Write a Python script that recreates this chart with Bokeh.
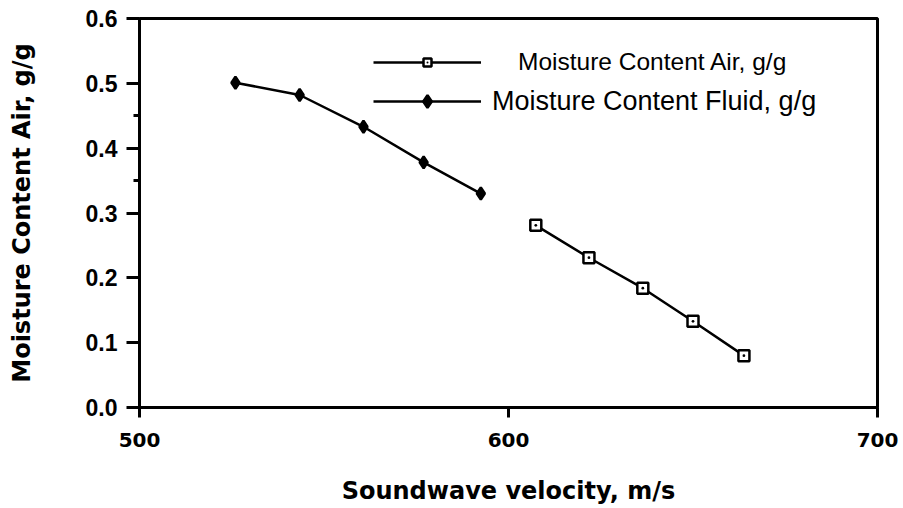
import numpy as np
from bokeh.plotting import figure
from bokeh.models import FixedTicker, Legend, LegendItem, Range1d
from bokeh.embed import file_html
from bokeh.resources import INLINE

# Data
air_velocity = [607.4, 621.8, 636.4, 650.0, 663.8]
air_moisture = [0.281, 0.231, 0.184, 0.133, 0.080]
fluid_velocity = [526.0, 543.4, 560.7, 577.0, 592.5]
fluid_moisture = [0.501, 0.482, 0.433, 0.378, 0.330]
x_ticks = [500, 600, 700]
y_ticks = [0.0, 0.1, 0.2, 0.3, 0.4, 0.5, 0.6]
y_minor_ticks = [0.35, 0.45]
y_tick_labels = {0.0: "0.0", 0.1: "0.1", 0.2: "0.2", 0.3: "0.3", 0.4: "0.4", 0.5: "0.5", 0.6: "0.6"}

p = figure(width=903, height=508, output_backend="svg", toolbar_location=None,
           x_range=Range1d(500, 700), y_range=Range1d(0, 0.6),
           min_border_left=139, min_border_right=26, min_border_top=18, min_border_bottom=101)

p.grid.visible = False
p.outline_line_color = "black"
p.outline_line_width = 3
p.background_fill_color = "white"
p.border_fill_color = "white"

# X axis
xa = p.xaxis[0]
xa.ticker = FixedTicker(ticks=x_ticks, minor_ticks=[])
xa.axis_line_width = 3
xa.major_tick_line_width = 3
xa.major_tick_out = 10
xa.major_tick_in = 0
xa.minor_tick_line_color = None
xa.major_label_text_font = "DejaVu Sans"
xa.major_label_text_font_style = "bold"
xa.major_label_text_font_size = "20px"
xa.major_label_text_color = "black"
xa.major_label_standoff = 15
xa.axis_label = "Soundwave velocity, m/s"
xa.axis_label_text_font = "DejaVu Sans"
xa.axis_label_text_font_style = "bold"
xa.axis_label_text_font_size = "24px"
xa.axis_label_text_color = "black"
xa.axis_label_standoff = 27

# Y axis
ya = p.yaxis[0]
ya.ticker = FixedTicker(ticks=y_ticks, minor_ticks=y_minor_ticks)
ya.major_label_overrides = y_tick_labels
ya.axis_line_width = 3
ya.major_tick_line_width = 3
ya.major_tick_out = 13
ya.major_tick_in = 0
ya.minor_tick_line_width = 3
ya.minor_tick_out = 6
ya.minor_tick_in = 0
ya.major_label_text_font = "Liberation Sans"
ya.major_label_text_font_style = "bold"
ya.major_label_text_font_size = "23px"
ya.major_label_text_color = "black"
ya.major_label_standoff = 9
ya.axis_label = "Moisture Content Air, g/g"
ya.axis_label_text_font = "DejaVu Sans"
ya.axis_label_text_font_style = "bold"
ya.axis_label_text_font_size = "24px"
ya.axis_label_text_color = "black"
ya.axis_label_standoff = 47

# Series
air_line = p.line(air_velocity, air_moisture, line_color="black", line_width=2.5)
air_pts = p.scatter(air_velocity, air_moisture, marker="square_dot", size=11,
                    fill_color="white", line_color="black", line_width=2.5)
fl_line = p.line(fluid_velocity, fluid_moisture, line_color="black", line_width=2.5)
fl_pts = p.scatter(fluid_velocity, fluid_moisture, marker="diamond", size=12,
                   fill_color="black", line_color="black", line_width=2.5)

def make_legend(label, renderers, loc, standoff, fsize, gh):
    lg = Legend(items=[LegendItem(label=label, renderers=renderers)],
                location=loc, orientation="vertical",
                glyph_width=108, glyph_height=gh, label_standoff=standoff,
                label_text_font="Liberation Sans", label_text_font_size=fsize,
                label_text_color="black",
                padding=0, margin=0, spacing=0,
                border_line_color=None, background_fill_alpha=0)
    p.add_layout(lg, "center")
    return lg

make_legend("Moisture Content Air, g/g", [air_line, air_pts], (234, 331), 37, "24.5px", 20)
make_legend("Moisture Content Fluid, g/g", [fl_line, fl_pts], (234, 290), 11, "27px", 32)

open("out.html", "w").write(file_html(p, INLINE))
